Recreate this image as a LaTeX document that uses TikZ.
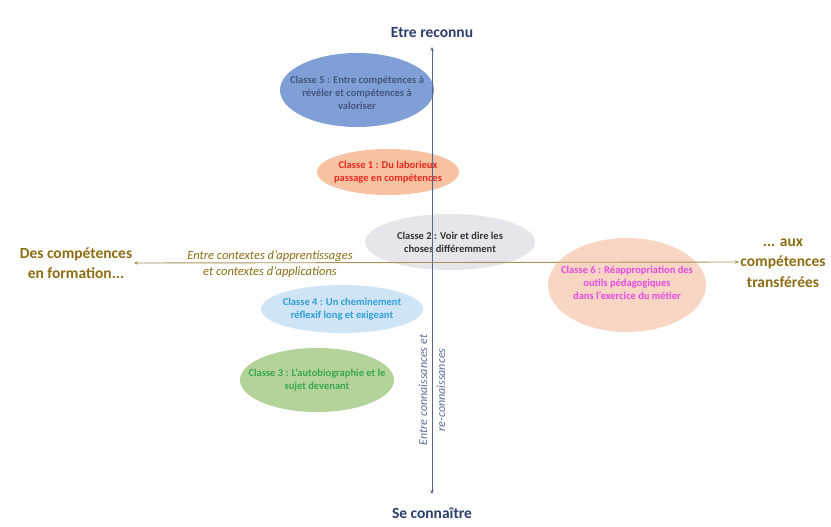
\documentclass[tikz,border=0pt]{standalone}
\usepackage{fontspec}
\setmainfont{Carlito}
\usetikzlibrary{arrows.meta}
\definecolor{olive}{HTML}{8C6D14}
\definecolor{oliveline}{HTML}{A8935A}
\definecolor{navy}{HTML}{2B3F6B}
\definecolor{vaxis}{HTML}{56668A}
\definecolor{vtext}{HTML}{5A6F9A}
\definecolor{f5}{HTML}{7F9FD6}
\definecolor{t5}{HTML}{44577F}
\definecolor{f1}{HTML}{F7C2A2}
\definecolor{t1}{HTML}{E8281E}
\definecolor{f2}{HTML}{E6E6EA}
\definecolor{t2}{HTML}{333333}
\definecolor{f6}{HTML}{F9D6C4}
\definecolor{t6}{HTML}{E54BE0}
\definecolor{f4}{HTML}{CFE4F5}
\definecolor{t4}{HTML}{2F9FD8}
\definecolor{f3}{HTML}{B3D39B}
\definecolor{t3}{HTML}{3AA84A}
\tikzset{
  classe/.style={inner sep=0pt, align=center,
    font=\fontsize{10.5}{13}\selectfont\bfseries},
  axislabel/.style={align=center, font=\fontsize{15.5}{20.5}\selectfont\bfseries},
  ital/.style={align=center, font=\fontsize{12.5}{16.5}\selectfont\itshape},
  tip/.style={{Stealth[length=4pt,width=3.5pt]}-{Stealth[length=4pt,width=3.5pt]}}
}
\begin{document}
\begin{tikzpicture}[x=1pt,y=-1pt]
\useasboundingbox[fill=white] (0,0) rectangle (831,527);
% ellipse backgrounds
\fill[f5] (357,90) ellipse [x radius=77, y radius=37];
\fill[f1] (388,172) ellipse [x radius=71, y radius=23];
\fill[f2] (450,242) ellipse [x radius=85, y radius=28];
\fill[f6] (627,285) ellipse [x radius=79, y radius=47];
\fill[f4] (342,309) ellipse [x radius=81, y radius=24];
\fill[f3] (317,380) ellipse [x radius=77, y radius=32];
% texts
\node[classe, text=t5] (c5) at (357,93)
  {Classe 5 : Entre compétences à\\ révéler et compétences à\\ valoriser};
\node[classe, text=t1] (c1) at (388,172)
  {Classe 1 : Du laborieux\\ passage en compétences};
\node[classe, text=t2] (c2) at (450,242)
  {Classe 2 : Voir et dire les\\ choses différemment};
\node[classe, text=t6] (c6) at (627,283)
  {Classe 6 : Réappropriation des\\ outils pédagogiques\\ dans l'exercice du métier};
\node[classe, text=t4] (c4) at (342,309)
  {Classe 4 : Un cheminement\\ réflexif long et exigeant};
\node[classe, text=t3] (c3) at (317,380)
  {Classe 3 : L'autobiographie et le\\ sujet devenant};
% axes
\coordinate (vT) at (432,47);
\coordinate (vB) at (432,494);
\coordinate (hL) at (134,263);
\coordinate (hR) at (739,262);
\draw[vaxis, line width=0.8pt, tip] (vT) -- (vB);
\draw[oliveline, line width=0.9pt, tip] (hL) -- (hR);
% axis labels
\node[axislabel, text=navy] (top) at (432,33) {Etre reconnu};
\node[axislabel, text=navy] (bot) at (432,513) {Se connaître};
\node[axislabel, text=olive] (left) at (76,263) {Des compétences\\ en formation...};
\node[axislabel, text=olive] (right) at (783,263) {... aux\\ compétences\\ transférées};
\node[ital, text=olive] (hlab) at (270,264) {Entre contextes d'apprentissages\\ et contextes d'applications};
\node[ital, text=vtext, rotate=90, font=\fontsize{12}{18}\selectfont\itshape] (vlab) at (432,390) {Entre connaissances et\\ re-connaissances};
\end{tikzpicture}
\end{document}
